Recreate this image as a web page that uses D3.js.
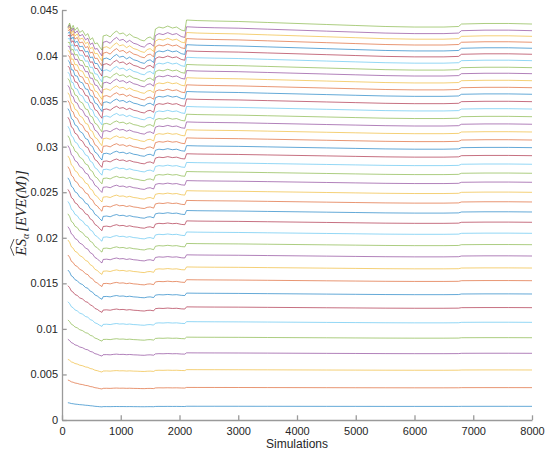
<!DOCTYPE html>
<html><head><meta charset="utf-8">
<script src="https://cdn.jsdelivr.net/npm/d3@7"></script>
<style>body{margin:0;background:#fff} svg{display:block}</style>
</head><body>
<svg id="chart" width="551" height="458"></svg>
<script>
// ---- data ----
const xTicks = [0,1000,2000,3000,4000,5000,6000,7000,8000];
const xTickLabels = ["0","1000","2000","3000","4000","5000","6000","7000","8000"];
const yTicks = [0,0.005,0.01,0.015,0.02,0.025,0.03,0.035,0.04,0.045];
const yTickLabels = ["0","0.005","0.01","0.015","0.02","0.025","0.03","0.035","0.04","0.045"];

// sample positions (number of simulations)
const simPts = [100,130,160,190,220,260,300,350,400,440,
  480,520,560,600,640,680,700,760,820,880,
  930,980,1040,1100,1150,1220,1280,1340,1400,1450,
  1500,1560,1590,1650,1720,1800,1880,1950,2030,2090,
  2120,2300,2600,3000,3500,4000,4500,5000,5500,6000,
  6500,6750,6800,7200,7600,8000];
// highest curve, read point by point
const topLine = [0.04302,0.04346,0.04280,0.04324,0.04270,0.04302,0.04248,0.04270,0.04215,0.04237,
  0.04171,0.04193,0.04127,0.04138,0.04094,0.04061,0.04215,0.04226,0.04204,0.04248,
  0.04270,0.04237,0.04248,0.04215,0.04237,0.04204,0.04193,0.04171,0.04160,0.04193,
  0.04204,0.04171,0.04291,0.04313,0.04302,0.04324,0.04302,0.04313,0.04280,0.04270,
  0.04390,0.04384,0.04379,0.04374,0.04363,0.04352,0.04341,0.04330,0.04319,0.04313,
  0.04313,0.04319,0.04346,0.04352,0.04352,0.04346];
// share of the initial excess still present at each sample position
const earlyWeight = [1,0.88,0.78,0.7,0.64,0.57,0.51,0.44,0.37,0.32,
  0.26,0.2,0.14,0.09,0.05,0.02,0,0,0,0,
  0,0,0,0,0,0,0,0,0,0,
  0,0,0,0,0,0,0,0,0,0,
  0,0,0,0,0,0,0,0,0,0,
  0,0,0,0,0,0];
// value of each of the 40 curves at 8000 simulations (bottom to top)
const endLevels = [0.00150,0.00355,0.00549,0.00732,0.00903,0.01072,0.01233,0.01383,0.01529,0.01668,
  0.01800,0.01924,0.02049,0.02170,0.02283,0.02393,0.02499,0.02609,0.02708,0.02807,
  0.02901,0.02989,0.03073,0.03161,0.03246,0.03329,0.03413,0.03494,0.03575,0.03647,
  0.03724,0.03801,0.03867,0.03944,0.04014,0.04080,0.04146,0.04211,0.04273,0.04346];
// value of each curve at its first point (100 simulations)
const startLevels = [0.00190,0.00439,0.00666,0.00886,0.01098,0.01298,0.01474,0.01646,0.01811,0.01976,
  0.02122,0.02263,0.02399,0.02531,0.02658,0.02781,0.02899,0.03012,0.03120,0.03224,
  0.03323,0.03418,0.03507,0.03592,0.03672,0.03748,0.03818,0.03885,0.03947,0.04003,
  0.04055,0.04103,0.04145,0.04184,0.04217,0.04245,0.04269,0.04289,0.04303,0.04313];
// how strongly each curve follows the wiggles of the top curve
const amps = [0.7,0.7,0.7,0.7,0.7,0.7,0.7,0.7,0.7,0.7,
  0.7,0.7,0.7,0.7,0.7,0.7,0.7,0.7,0.7,0.7,
  0.72,0.74,0.75,0.77,0.78,0.8,0.81,0.83,0.84,0.86,
  0.87,0.89,0.9,0.92,0.93,0.95,0.96,0.98,0.99,1.0];
const colors = ["#0072BD","#D95319","#EDB120","#7E2F8E","#77AC30","#4DBEEE","#A2142F"];

// ---- chart ----
const svg = d3.select("#chart");
const x = d3.scaleLinear().domain([0,8000]).range([62,532]);
const y = d3.scaleLinear().domain([0,0.045]).range([420,10]);

const topEnd = topLine[topLine.length-1];
const series = endLevels.map((L,i)=>{
  const base = j => L*(1+amps[i]*(topLine[j]/topEnd-1));
  const excess = startLevels[i]-base(0);
  return simPts.map((s,j)=>({s, v: base(j) + excess*earlyWeight[j]}));
});

const line = d3.line().x(d=>x(d.s)).y(d=>y(d.v));
svg.append("g").selectAll("path").data(series).join("path")
  .attr("d", line)
  .attr("fill","none")
  .attr("stroke",(d,i)=>colors[i%colors.length])
  .attr("stroke-width",0.9)
  .attr("stroke-opacity",0.68)
  .attr("stroke-linejoin","round");

const axisColor = "#9a9a9a";
const textColor = "#262626";
const yAxis = svg.append("g").attr("transform","translate(62,0)")
  .call(d3.axisLeft(y).tickValues(yTicks).tickFormat((d,i)=>yTickLabels[i])
    .tickSizeInner(-4.7).tickSizeOuter(0).tickPadding(4));
const xAxis = svg.append("g").attr("transform","translate(0,420)")
  .call(d3.axisBottom(x).tickValues(xTicks).tickFormat((d,i)=>xTickLabels[i])
    .tickSizeInner(-4.7).tickSizeOuter(0).tickPadding(7));
[yAxis,xAxis].forEach(g=>{
  g.select(".domain").attr("stroke",axisColor).attr("stroke-width",1.3);
  g.selectAll(".tick line").attr("stroke",axisColor).attr("stroke-width",1.3);
  g.selectAll("text").attr("fill",textColor)
    .style("font-family","'Liberation Sans', Arial, Helvetica, sans-serif").style("font-size","11px");
});

svg.append("text").attr("x",297).attr("y",448).attr("text-anchor","middle")
  .attr("fill",textColor)
  .style("font-family","'Liberation Sans', Arial, Helvetica, sans-serif").style("font-size","12px")
  .text("Simulations");

// y label: \widehat{ES}_\alpha [EVE(M)]
const lab = svg.append("g").attr("transform","translate(26,213) rotate(-90)");
const t = lab.append("text").attr("fill",textColor)
  .style("font-family","'Liberation Serif', 'Times New Roman', serif")
  .style("font-style","italic").style("font-size","15px");
t.append("tspan").text("ES");
t.append("tspan").attr("dy",3).style("font-size","10px").text("α");
t.append("tspan").attr("dy",-3).attr("dx",2).text("[EVE(M)]");
const tw = t.node().getComputedTextLength() + 2;
t.attr("x",-tw/2);
const esW = t.node().getSubStringLength(0,2);
const x0 = -tw/2;
lab.append("path")
  .attr("d",`M${x0},-12 L${x0+esW/2},-15.5 L${x0+esW},-12`)
  .attr("fill","none").attr("stroke",textColor).attr("stroke-width",0.8);
</script>
</body></html>
